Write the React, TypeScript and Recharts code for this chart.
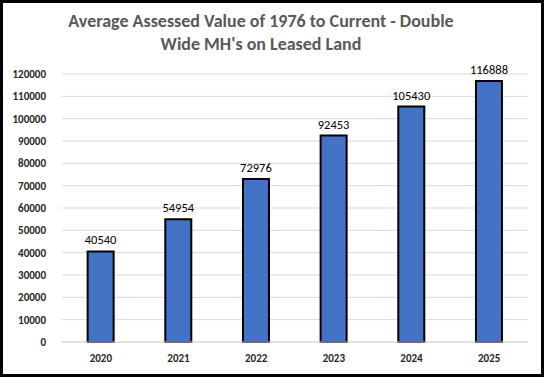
import React from "react";
import { BarChart, Bar, XAxis, YAxis, CartesianGrid, LabelList } from "recharts";

const years = ["2020", "2021", "2022", "2023", "2024", "2025"];
const values = [40540, 54954, 72976, 92453, 105430, 116888];
const yTicks = [0, 10000, 20000, 30000, 40000, 50000, 60000, 70000, 80000, 90000, 100000, 110000, 120000];
const titleLines = ["Average Assessed Value of 1976 to Current - Double", "Wide MH's on Leased Land"];

const data = years.map((y, i) => ({ year: y, value: values[i] }));

const FONT = "Carlito, Lato, 'Open Sans', sans-serif";

export default function App() {
  return (
    <div style={{ position: "fixed", left: 0, top: 0, width: 544, height: 377, background: "#fff" }}>
      <div
        style={{
          position: "absolute",
          left: 0,
          top: 0,
          width: 544,
          height: 377,
          boxSizing: "border-box",
          border: "3px solid #000",
          pointerEvents: "none",
          zIndex: 2,
        }}
      />
      <div
        style={{
          position: "absolute",
          left: 0,
          top: 10,
          width: 522,
          textAlign: "center",
          fontFamily: FONT,
          fontWeight: 700,
          fontSize: 18,
          lineHeight: "23px",
          color: "#595959",
          zIndex: 1,
        }}
      >
        {titleLines.map((t) => (
          <div key={t}>{t}</div>
        ))}
      </div>
      <BarChart
        width={544}
        height={377}
        data={data}
        margin={{ top: 74, right: 16, left: 0, bottom: 5 }}
        barCategoryGap="33%"
      >
        <CartesianGrid vertical={false} stroke="#d9d9d9" />
        <XAxis
          dataKey="year"
          axisLine={{ stroke: "#d9d9d9" }}
          tickLine={false}
          height={30}
          tickMargin={6}
          tick={{ fontFamily: FONT, fontSize: 11, fontWeight: 700, fill: "#262626" }}
        />
        <YAxis
          domain={[0, 120000]}
          ticks={yTicks}
          interval={0}
          width={62}
          axisLine={false}
          tickLine={false}
          tickMargin={10}
          tick={{ fontFamily: FONT, fontSize: 11, fontWeight: 700, fill: "#262626" }}
        />
        <Bar dataKey="value" fill="#4472C4" stroke="#000" strokeWidth={2} isAnimationActive={false}>
          <LabelList
            dataKey="value"
            position="top"
            offset={7}
            style={{ fontFamily: FONT, fontSize: 12.5, fontWeight: 400, fill: "#000" }}
          />
        </Bar>
      </BarChart>
    </div>
  );
}
